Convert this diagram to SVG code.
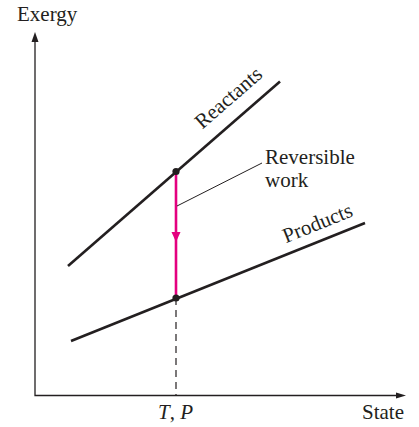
<svg xmlns="http://www.w3.org/2000/svg" width="419" height="427" viewBox="0 0 419 427">
<style>
text{font-family:"Liberation Serif","Times New Roman",serif;font-size:21px;fill:#231f20}
.ax{stroke:#231f20;stroke-width:1.3;fill:none}
.ln{stroke:#231f20;stroke-width:2.6;fill:none;stroke-linecap:butt}
.lead{stroke:#231f20;stroke-width:1;fill:none}
.dash{stroke:#231f20;stroke-width:1.2;stroke-dasharray:7,5;fill:none}
.mg{stroke:#e4007f;stroke-width:2.6;fill:none}
.dot{fill:#231f20}
</style>
<rect width="419" height="427" fill="#fff"/>
<g id="axes">
<path class="ax" d="M35,40 V395.5 H399"/>
<polygon points="35,32 31.5,42 38.5,42" fill="#231f20"/>
<polygon points="406,395.5 396,392.5 396,398.5" fill="#231f20"/>
<text x="17" y="21">Exergy</text>
<text x="362" y="419">State</text>
<text x="158" y="419"><tspan font-style="italic">T</tspan>, <tspan font-style="italic">P</tspan></text>
</g>
<g id="reactants">
<line class="ln" x1="68" y1="266" x2="280" y2="81.5"/>
<text transform="translate(233,103) rotate(-41.1)" text-anchor="middle">Reactants</text>
</g>
<g id="products">
<line class="ln" x1="71" y1="341" x2="365" y2="223"/>
<text transform="translate(320,229.5) rotate(-21.9)" text-anchor="middle">Products</text>
</g>
<g id="connectors">
<line class="mg" x1="176" y1="171.5" x2="176" y2="298"/>
<polygon points="171.5,232 180.5,232 176,242" fill="#e4007f"/>
<line class="dash" x1="176" y1="298" x2="176" y2="395"/>
<line class="lead" x1="177" y1="206" x2="262" y2="163"/>
</g>
<g id="points">
<circle class="dot" cx="176" cy="171.5" r="3.6"/>
<circle class="dot" cx="176" cy="298" r="3.6"/>
</g>
<g id="label-work">
<text x="265" y="164">Reversible</text>
<text x="265" y="187">work</text>
</g>
</svg>
